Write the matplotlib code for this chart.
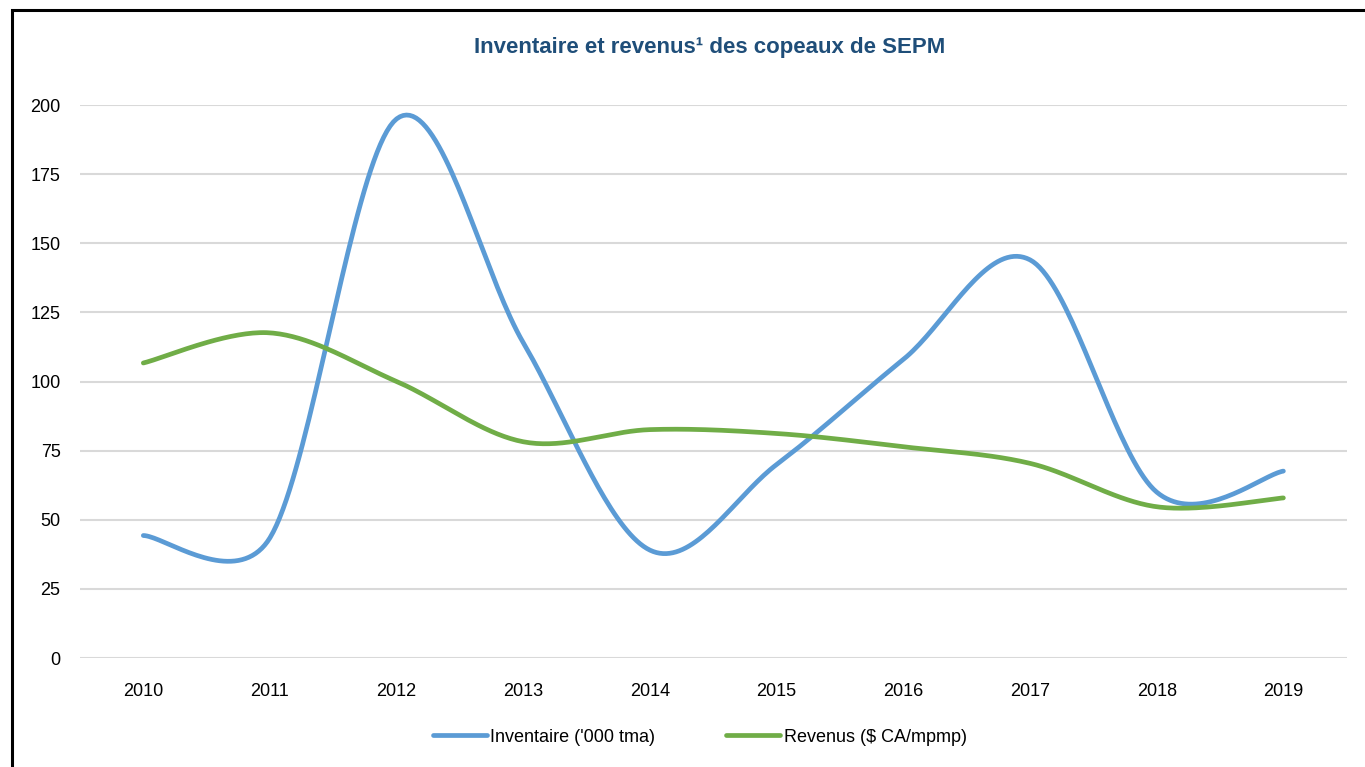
import numpy as np
import matplotlib
matplotlib.use('Agg')
import matplotlib.pyplot as plt
from matplotlib.patches import Rectangle

plt.rcParams['font.family'] = ['Liberation Sans Narrow', 'Liberation Sans', 'DejaVu Sans']

years = ['2010', '2011', '2012', '2013', '2014', '2015', '2016', '2017', '2018', '2019']
inventaire = [44.3, 43.5, 195, 114, 39, 70, 108, 144, 60, 67.6]
revenus = [106.7, 117.6, 100, 78.2, 82.6, 81.2, 76.4, 70.4, 54.7, 57.9]

label_inv = "Inventaire ('000 tma)"
label_rev = "Revenus ($ CA/mpmp)"
title = "Inventaire et revenus\u00b9 des copeaux de SEPM"

# pixel size of one category / one y unit, used for the excel-like smoothing
SX, SY = 126.8, 2.767


def smooth(y, n=40):
    # bezier smoothing like excel: tangent/6, capped at half the segment length
    y = np.asarray(y, dtype=float)
    pts = np.column_stack([np.arange(len(y)) * SX, y * SY])
    ext = np.vstack([pts[0], pts, pts[-1]])
    t = np.linspace(0, 1, n)[:, None]
    out = []
    for i in range(len(pts) - 1):
        p0, p1, p2, p3 = ext[i], ext[i + 1], ext[i + 2], ext[i + 3]
        seg_len = np.hypot(*(p2 - p1))
        d1 = (p2 - p0) / 6
        d2 = (p3 - p1) / 6
        l1, l2 = np.hypot(*d1), np.hypot(*d2)
        if l1 > seg_len / 2:
            d1 = d1 * (seg_len / 2) / l1
        if l2 > seg_len / 2:
            d2 = d2 * (seg_len / 2) / l2
        c1 = p1 + d1
        c2 = p2 - d2
        seg = ((1 - t) ** 3 * p1 + 3 * (1 - t) ** 2 * t * c1
               + 3 * (1 - t) * t ** 2 * c2 + t ** 3 * p2)
        out.append(seg if i == 0 else seg[1:])
    out = np.vstack(out)
    return out[:, 0] / SX, out[:, 1] / SY


fig = plt.figure(figsize=(13.65, 7.67), dpi=100)
ax = fig.add_axes([0.0586, 0.1421, 0.928, 0.721])

xs, ys = smooth(inventaire)
ax.plot(xs, ys, color='#5B9BD5', lw=3.4, solid_capstyle='round', label=label_inv, zorder=3)
xs, ys = smooth(revenus)
ax.plot(xs, ys, color='#70AD47', lw=3.4, solid_capstyle='round', label=label_rev, zorder=3)

ax.set_xlim(-0.5, len(years) - 0.5)
ax.set_ylim(0, 200)
ax.set_yticks(np.arange(0, 201, 25))
ax.set_xticks(range(len(years)))
ax.set_xticklabels(years)
ax.grid(axis='y', color='#D9D9D9', lw=1.5)
ax.set_axisbelow(True)
for s in ax.spines.values():
    s.set_visible(False)
ax.tick_params(length=0, labelsize=13, colors='black')
ax.tick_params(axis='x', pad=18)
ax.tick_params(axis='y', pad=14)

fig.text(0.52, 0.938, title, ha='center', va='center', fontsize=16,
         fontweight='bold', color='#1F4E79')

leg = fig.legend(loc='center', bbox_to_anchor=(0.5125, 0.039), ncol=2, frameon=False,
                 fontsize=13, handlelength=3.0, handletextpad=0.2, columnspacing=3.9)

fig.patches.append(Rectangle((12 / 1365, -0.1), 1.2, 1.1 - 12 / 767 + 0.002,
                             transform=fig.transFigure, fill=False,
                             edgecolor='black', lw=2.2))

fig.savefig('out.png', dpi=100, facecolor='white')
